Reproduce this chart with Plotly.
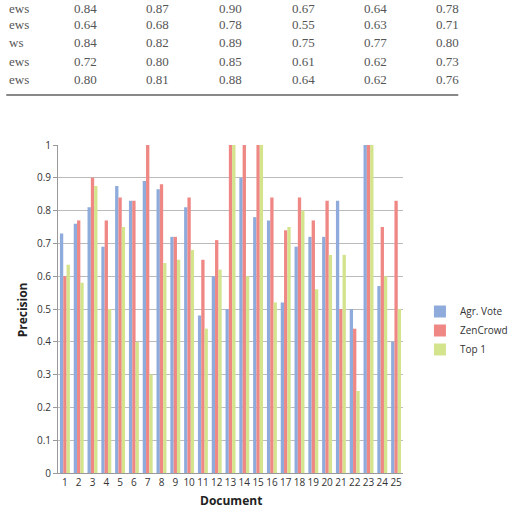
import plotly.graph_objects as go

# ---- data ----
documents = [str(i) for i in range(1, 26)]
agr_vote = [0.73, 0.76, 0.81, 0.69, 0.875, 0.83, 0.89, 0.865, 0.72, 0.81,
            0.48, 0.60, 0.50, 0.90, 0.78, 0.77, 0.52, 0.69, 0.72, 0.72,
            0.83, 0.50, 1.00, 0.57, 0.40]
zencrowd = [0.60, 0.77, 0.90, 0.77, 0.84, 0.83, 1.00, 0.88, 0.72, 0.84,
            0.65, 0.71, 1.00, 1.00, 1.00, 0.84, 0.74, 0.84, 0.77, 0.83,
            0.50, 0.44, 1.00, 0.75, 0.83]
top1 = [0.635, 0.58, 0.875, 0.50, 0.75, 0.40, 0.30, 0.64, 0.65, 0.68,
        0.44, 0.62, 1.00, 0.60, 1.00, 0.52, 0.75, 0.80, 0.56, 0.665,
        0.665, 0.25, 1.00, 0.60, 0.50]
y_ticks = [0, 0.1, 0.2, 0.3, 0.4, 0.5, 0.6, 0.7, 0.8, 0.9, 1]
y_tick_text = ["0", "0.1", "0.2", "0.3", "0.4", "0.5", "0.6", "0.7", "0.8", "0.9", "1"]

table_labels = ["ews", "ews", "ws", "ews", "ews"]
table_rows = [
    ["0.84", "0.87", "0.90", "0.67", "0.64", "0.78"],
    ["0.64", "0.68", "0.78", "0.55", "0.63", "0.71"],
    ["0.84", "0.82", "0.89", "0.75", "0.77", "0.80"],
    ["0.72", "0.80", "0.85", "0.61", "0.62", "0.73"],
    ["0.80", "0.81", "0.88", "0.64", "0.62", "0.76"],
]

W, H = 525, 513
L, R, T, B = 58, 80, 145, 40
PW, PH = W - L - R, H - T - B

def px(x):
    return (x - L) / PW

def py(y):
    return (H - B - y) / PH

font_fam = "Open Sans, Lato, sans-serif"

fig = go.Figure()
fig.add_bar(x=documents, y=agr_vote, name="Agr. Vote", marker_color="#8EABDC",
            marker_line_width=0)
fig.add_bar(x=documents, y=zencrowd, name="ZenCrowd", marker_color="#EF8784",
            marker_line_width=0)
fig.add_bar(x=documents, y=top1, name="Top 1", marker_color="#D3E48C",
            marker_line_width=0)

annotations = []
# table text above the chart
row_y = [8, 25, 43, 61, 80]
col_x = [89, 170, 252, 333, 414, 495]
for r, (lab, vals) in enumerate(zip(table_labels, table_rows)):
    annotations.append(dict(x=px(1), y=py(row_y[r]), xref="paper", yref="paper",
                            text=lab, showarrow=False, xanchor="left", yanchor="middle",
                            font=dict(family="Liberation Serif, serif", size=13, color="#555")))
    for c, v in enumerate(vals):
        annotations.append(dict(x=px(col_x[c]), y=py(row_y[r]), xref="paper", yref="paper",
                                text=v, showarrow=False, xanchor="center", yanchor="middle",
                                font=dict(family="Liberation Serif, serif", size=13, color="#555")))

annotations.append(dict(x=px(252), y=py(500), xref="paper", yref="paper", text="<b>Document</b>",
                        showarrow=False, xanchor="center", yanchor="middle",
                        font=dict(family=font_fam, size=12, color="#222")))
annotations.append(dict(x=px(18), y=py(310), xref="paper", yref="paper", text="<b>Precision</b>",
                        showarrow=False, xanchor="center", yanchor="middle", textangle=-90,
                        font=dict(family=font_fam, size=12, color="#222")))

shapes = [dict(type="line", xref="paper", yref="paper", x0=px(0), x1=px(507),
               y0=py(95), y1=py(95), line=dict(color="#888", width=2))]

fig.update_layout(
    width=W, height=H,
    margin=dict(l=L, r=R, t=T, b=B, pad=0),
    paper_bgcolor="white", plot_bgcolor="white",
    barmode="group", bargap=0.28, bargroupgap=0,
    font=dict(family=font_fam, size=10, color="#333"),
    showlegend=True,
    legend=dict(x=px(464), y=py(297), xanchor="left", yanchor="top",
                font=dict(family=font_fam, size=10, color="#333"),
                tracegroupgap=0, itemwidth=30, bgcolor="rgba(0,0,0,0)"),
    annotations=annotations,
    shapes=shapes,
)
fig.update_xaxes(type="category", showgrid=False, showline=True, linecolor="#999",
                 linewidth=1, ticks="", tickfont=dict(size=10, color="#333"))
fig.update_yaxes(range=[0, 1], tickvals=y_ticks, ticktext=y_tick_text, showgrid=True,
                 gridcolor="#BBBBBB", gridwidth=1, showline=True, linecolor="#999",
                 ticks="outside", ticklen=4, tickcolor="#999", zeroline=False,
                 tickfont=dict(size=10, color="#333"))

fig.write_html("out.html", config={"displayModeBar": False})
